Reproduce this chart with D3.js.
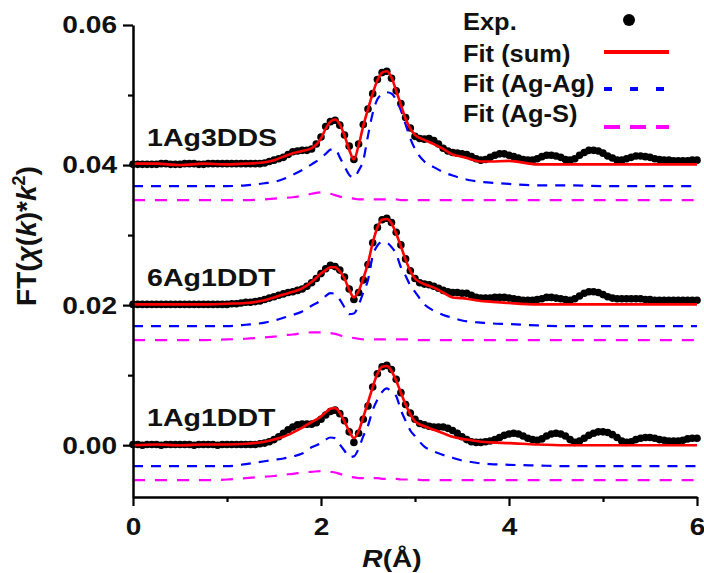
<!DOCTYPE html>
<html>
<head>
<meta charset="utf-8">
<script src="https://cdn.jsdelivr.net/npm/d3@7"></script>
<style>
  html, body { margin: 0; padding: 0; background: #fff; }
  svg { display: block; font-family: "Liberation Sans", Arial, sans-serif; font-weight: bold; }
</style>
</head>
<body>
<svg id="chart" width="704" height="573"></svg>
<script>
// ---- Sample names and vertical stacking offsets ----
const samples = ["1Ag3DDS", "6Ag1DDT", "1Ag1DDT"];
const offsets = [0.04, 0.02, 0.00];
// Fit components are drawn slightly below each sample's baseline
const agAgShift = -0.003;
const agSShift = -0.005;

// ---- Experimental |FT| (k^2-weighted), sampled every 0.05 Å from 0 to 6 Å ----
const expR = d3.range(121).map(i => i / 20);

const exp1Ag3DDS = [
  0.0001,0.0001,0.0001,0.0001,0.0001,0.0001,0.0002,0.0002,0.0001,0.0001,
  0.0001,0.0002,0.0002,0.0002,0.0001,0.0001,0.0002,0.0002,0.0002,0.0002,
  0.0002,0.0002,0.0002,0.0002,0.0002,0.0002,0.0002,0.0002,0.0003,0.0005,
  0.0007,0.0009,0.0011,0.0015,0.0019,0.0020,0.0021,0.0021,0.0023,0.0030,
  0.0040,0.0055,0.0062,0.0064,0.0057,0.0043,0.0027,0.0008,0.0030,0.0058,
  0.0080,0.0102,0.0122,0.0132,0.0134,0.0124,0.0106,0.0088,0.0068,0.0053,
  0.0041,0.0038,0.0037,0.0038,0.0035,0.0030,0.0024,0.0020,0.0018,0.0017,
  0.0016,0.0015,0.0012,0.0009,0.0007,0.0008,0.0011,0.0014,0.0016,0.0016,
  0.0014,0.0012,0.0010,0.0008,0.0007,0.0007,0.0009,0.0012,0.0014,0.0014,
  0.0013,0.0011,0.0008,0.0007,0.0009,0.0014,0.0018,0.0021,0.0021,0.0020,
  0.0017,0.0013,0.0010,0.0007,0.0007,0.0009,0.0011,0.0013,0.0013,0.0012,
  0.0011,0.0009,0.0008,0.0007,0.0007,0.0006,0.0006,0.0006,0.0006,0.0007,
  0.0007
];

const exp6Ag1DDT = [
  0.0001,0.0001,0.0001,0.0001,0.0001,0.0001,0.0001,0.0001,0.0001,0.0001,
  0.0001,0.0001,0.0001,0.0001,0.0001,0.0001,0.0001,0.0001,0.0001,0.0001,
  0.0001,0.0002,0.0002,0.0003,0.0004,0.0004,0.0005,0.0006,0.0008,0.0010,
  0.0012,0.0014,0.0016,0.0018,0.0019,0.0021,0.0023,0.0027,0.0032,0.0038,
  0.0045,0.0052,0.0057,0.0055,0.0050,0.0040,0.0023,0.0008,0.0018,0.0036,
  0.0058,0.0089,0.0111,0.0122,0.0124,0.0118,0.0104,0.0086,0.0066,0.0049,
  0.0038,0.0032,0.0030,0.0029,0.0027,0.0024,0.0021,0.0019,0.0018,0.0018,
  0.0017,0.0017,0.0014,0.0011,0.0010,0.0010,0.0010,0.0011,0.0011,0.0011,
  0.0010,0.0009,0.0008,0.0007,0.0007,0.0007,0.0008,0.0009,0.0011,0.0011,
  0.0010,0.0009,0.0008,0.0007,0.0009,0.0013,0.0017,0.0019,0.0019,0.0018,
  0.0015,0.0012,0.0010,0.0009,0.0009,0.0009,0.0009,0.0009,0.0009,0.0008,
  0.0008,0.0007,0.0007,0.0007,0.0007,0.0007,0.0007,0.0007,0.0007,0.0007,
  0.0007
];

const exp1Ag1DDT = [
  0.0001,0.0001,0.0000,0.0001,0.0001,0.0001,0.0000,0.0001,0.0001,0.0001,
  0.0001,0.0001,0.0001,0.0000,0.0001,0.0001,0.0001,0.0001,0.0000,0.0001,
  0.0001,0.0001,0.0001,0.0001,0.0001,0.0001,0.0001,0.0002,0.0003,0.0005,
  0.0008,0.0012,0.0017,0.0022,0.0026,0.0029,0.0030,0.0030,0.0030,0.0032,
  0.0037,0.0043,0.0048,0.0050,0.0045,0.0035,0.0019,0.0004,0.0017,0.0037,
  0.0056,0.0083,0.0102,0.0112,0.0114,0.0108,0.0094,0.0075,0.0058,0.0046,
  0.0037,0.0031,0.0029,0.0027,0.0026,0.0026,0.0026,0.0024,0.0021,0.0017,
  0.0012,0.0008,0.0005,0.0004,0.0004,0.0005,0.0006,0.0008,0.0011,0.0014,
  0.0016,0.0017,0.0016,0.0013,0.0010,0.0008,0.0007,0.0009,0.0013,0.0016,
  0.0017,0.0016,0.0013,0.0008,0.0004,0.0006,0.0010,0.0014,0.0017,0.0019,
  0.0019,0.0018,0.0015,0.0011,0.0006,0.0004,0.0005,0.0008,0.0010,0.0011,
  0.0011,0.0010,0.0008,0.0007,0.0006,0.0006,0.0006,0.0007,0.0009,0.0010,
  0.0010
];

// ---- Fitted curves (sum and single-path contributions) ----
const fitR = [0, 0.25, 0.5, 0.75, 1.0, 1.2, 1.4, 1.5, 1.6, 1.7, 1.8, 1.9,
  2.0, 2.05, 2.1, 2.15, 2.2, 2.25, 2.3, 2.35, 2.4, 2.45, 2.5, 2.55, 2.6, 2.65,
  2.7, 2.75, 2.8, 2.85, 2.9, 2.95, 3.0, 3.1, 3.2, 3.3, 3.4, 3.5, 3.6, 3.7, 3.8,
  4.0, 4.3, 4.6, 5.0, 5.5, 6.0];

const sum1Ag3DDS = [0.0002,0.0002,0.0000,0.0002,0.0001,0.0002,0.0004,0.0007,0.0012,0.0017,0.0020,0.0024,
  0.0038,0.0052,0.0062,0.0065,0.0058,0.0042,0.0022,0.0008,0.0028,0.0056,0.0080,0.0102,0.0121,0.0132,
  0.0134,0.0125,0.0106,0.0086,0.0066,0.0052,0.0043,0.0036,0.0030,0.0023,0.0015,0.0012,0.0008,0.0005,0.0005,
  0.0006,0.0001,0.0001,0.0001,0.0001,0.0001];
const agag1Ag3DDS = [0.0000,0.0000,0.0000,0.0000,0.0000,0.0001,0.0004,0.0006,0.0010,0.0016,0.0023,0.0031,
  0.0040,0.0046,0.0052,0.0053,0.0041,0.0028,0.0016,0.0012,0.0022,0.0037,0.0072,0.0104,0.0124,0.0131,
  0.0134,0.0132,0.0123,0.0108,0.0088,0.0068,0.0053,0.0035,0.0027,0.0020,0.0015,0.0011,0.0008,0.0006,0.0005,
  0.0003,0.0001,0.0001,0.0000,0.0000,0.0000];
const ags1Ag3DDS = [0.0000,0.0000,0.0000,0.0000,0.0000,0.0000,0.0001,0.0002,0.0003,0.0004,0.0006,0.0009,
  0.0011,0.0010,0.0009,0.0007,0.0005,0.0004,0.0003,0.0002,0.0001,0.0001,0.0001,0.0001,0.0001,0.0001,
  0.0001,0.0001,0.0001,0.0000,0.0000,0.0000,0.0000,0.0000,0.0000,0.0000,0.0000,0.0000,0.0000,0.0000,0.0000,
  0.0000,0.0000,0.0000,0.0000,0.0000,0.0000];

const sum6Ag1DDT = [0.0001,0.0001,0.0001,0.0001,0.0002,0.0003,0.0007,0.0011,0.0015,0.0019,0.0024,0.0033,
  0.0045,0.0050,0.0054,0.0054,0.0048,0.0038,0.0022,0.0011,0.0020,0.0038,0.0060,0.0089,0.0111,0.0122,
  0.0123,0.0117,0.0102,0.0084,0.0065,0.0049,0.0038,0.0030,0.0025,0.0018,0.0011,0.0010,0.0008,0.0006,0.0005,
  0.0003,0.0001,0.0001,0.0001,0.0001,0.0001];
const agag6Ag1DDT = [0.0000,0.0000,0.0000,0.0000,0.0000,0.0002,0.0005,0.0008,0.0012,0.0016,0.0021,0.0029,
  0.0037,0.0043,0.0047,0.0046,0.0038,0.0027,0.0017,0.0018,0.0030,0.0048,0.0066,0.0100,0.0115,0.0120,
  0.0119,0.0113,0.0103,0.0084,0.0072,0.0058,0.0049,0.0031,0.0022,0.0016,0.0012,0.0008,0.0006,0.0005,0.0004,
  0.0003,0.0001,0.0000,0.0000,0.0000,0.0000];
const ags6Ag1DDT = [0.0000,0.0000,0.0000,0.0000,0.0001,0.0002,0.0004,0.0005,0.0007,0.0008,0.0010,0.0011,
  0.0011,0.0011,0.0010,0.0009,0.0007,0.0005,0.0004,0.0003,0.0002,0.0001,0.0001,0.0001,0.0001,0.0001,
  0.0001,0.0001,0.0001,0.0001,0.0001,0.0001,0.0000,0.0000,0.0000,0.0000,0.0000,0.0000,0.0000,0.0000,0.0000,
  0.0000,0.0000,0.0000,0.0000,0.0000,0.0000];

const sum1Ag1DDT = [0.0000,0.0001,0.0000,0.0001,0.0001,0.0002,0.0005,0.0008,0.0012,0.0018,0.0025,0.0033,
  0.0041,0.0047,0.0052,0.0053,0.0046,0.0034,0.0020,0.0010,0.0020,0.0040,0.0061,0.0083,0.0102,0.0112,
  0.0113,0.0106,0.0092,0.0075,0.0058,0.0044,0.0034,0.0027,0.0022,0.0017,0.0012,0.0009,0.0007,0.0005,0.0004,
  0.0003,0.0001,0.0000,0.0000,0.0000,0.0000];
const agag1Ag1DDT = [0.0000,0.0000,0.0000,0.0000,0.0000,0.0003,0.0007,0.0009,0.0011,0.0014,0.0018,0.0027,
  0.0033,0.0038,0.0041,0.0040,0.0031,0.0022,0.0013,0.0014,0.0025,0.0043,0.0058,0.0080,0.0095,0.0106,
  0.0111,0.0106,0.0100,0.0080,0.0065,0.0051,0.0043,0.0028,0.0021,0.0016,0.0012,0.0008,0.0006,0.0004,0.0003,
  0.0002,0.0001,0.0000,0.0000,0.0000,0.0000];
const ags1Ag1DDT = [0.0000,0.0000,0.0000,0.0000,0.0001,0.0003,0.0005,0.0006,0.0008,0.0009,0.0011,0.0012,
  0.0013,0.0013,0.0012,0.0011,0.0009,0.0007,0.0005,0.0004,0.0003,0.0003,0.0003,0.0003,0.0003,0.0002,
  0.0002,0.0002,0.0002,0.0001,0.0001,0.0001,0.0001,0.0000,0.0000,0.0000,0.0000,0.0000,0.0000,0.0000,0.0000,
  0.0000,0.0000,0.0000,0.0000,0.0000,0.0000];

// ---- Axis ticks and legend entries ----
const yTicks = [0, 0.02, 0.04, 0.06];
const yMinorTicks = [0.01, 0.03, 0.05];
const xTicks = [0, 2, 4, 6];
const xMinorTicks = [1, 3, 5];
const legendLabels = ["Exp.", "Fit (sum)", "Fit (Ag-Ag)", "Fit (Ag-S)"];

const expSets = [exp1Ag3DDS, exp6Ag1DDT, exp1Ag1DDT];
const sumSets = [sum1Ag3DDS, sum6Ag1DDT, sum1Ag1DDT];
const agagSets = [agag1Ag3DDS, agag6Ag1DDT, agag1Ag1DDT];
const agsSets = [ags1Ag3DDS, ags6Ag1DDT, ags1Ag1DDT];

// ---- Layout ----
const svg = d3.select("#chart");
const x = d3.scaleLinear().domain([0, 6]).range([133, 697]);
const y = d3.scaleLinear().domain([-0.0074, 0.06]).range([497, 25]);

const colors = { exp: "#000", sum: "#ff0000", agag: "#0000ff", ags: "#ff00ff" };

// Stretch text horizontally to the wide bold look of the figure
function widen(sel, k) {
  sel.each(function () {
    const w = this.getComputedTextLength();
    this.setAttribute("textLength", (w * k).toFixed(1));
    this.setAttribute("lengthAdjust", "spacingAndGlyphs");
  });
}

const line = d3.line()
  .x(d => x(d[0]))
  .y(d => y(d[1]))
  .curve(d3.curveMonotoneX);

const plot = svg.append("g");

samples.forEach((name, i) => {
  const off = offsets[i];
  const g = plot.append("g").attr("class", "sample");

  // experimental points
  g.append("g").selectAll("circle")
    .data(expR.map((r, j) => [r, expSets[i][j] + off]))
    .join("circle")
    .attr("cx", d => x(d[0]))
    .attr("cy", d => y(d[1]))
    .attr("r", 3.8)
    .attr("fill", colors.exp);

  // Ag-Ag path
  g.append("path")
    .datum(fitR.map((r, j) => [r, agagSets[i][j] + off + agAgShift]))
    .attr("d", line)
    .attr("fill", "none")
    .attr("stroke", colors.agag)
    .attr("stroke-width", 2.2)
    .attr("stroke-dasharray", "10,8");

  // Ag-S path
  g.append("path")
    .datum(fitR.map((r, j) => [r, agsSets[i][j] + off + agSShift]))
    .attr("d", line)
    .attr("fill", "none")
    .attr("stroke", colors.ags)
    .attr("stroke-width", 2.2)
    .attr("stroke-dasharray", "12,10");

  // total fit
  g.append("path")
    .datum(fitR.map((r, j) => [r, sumSets[i][j] + off]))
    .attr("d", line)
    .attr("fill", "none")
    .attr("stroke", colors.sum)
    .attr("stroke-width", 2.6);

  // sample name
  const t = g.append("text")
    .attr("x", 147)
    .attr("y", y(off) - 19)
    .attr("font-size", 24)
    .attr("fill", "#111")
    .text(name);
  widen(t, 1.19);
});

// ---- Axes ----
function styleAxis(g) {
  g.attr("font-family", null).attr("font-size", 24);
  g.selectAll(".domain").attr("stroke", "#000").attr("stroke-width", 2.5);
  g.selectAll(".tick line").attr("stroke", "#000").attr("stroke-width", 2.2);
  g.selectAll(".tick text").attr("fill", "#111");
}

const gy = svg.append("g")
  .attr("transform", "translate(133,0)")
  .call(d3.axisLeft(y).tickValues(yTicks).tickFormat(d3.format(".2f"))
    .tickSize(10).tickSizeOuter(0).tickPadding(6))
  .call(styleAxis);
gy.selectAll(".tick text").attr("dy", "0.33em");
widen(gy.selectAll(".tick text"), 1.17);

svg.append("g")
  .attr("transform", "translate(133,0)")
  .call(d3.axisLeft(y).tickValues(yMinorTicks).tickFormat(() => "").tickSize(5).tickSizeOuter(0))
  .call(styleAxis)
  .call(g => g.select(".domain").remove());

const gx = svg.append("g")
  .attr("transform", "translate(0,497)")
  .call(d3.axisBottom(x).tickValues(xTicks).tickFormat(d3.format("d"))
    .tickSize(9).tickSizeOuter(0))
  .call(styleAxis);
gx.selectAll(".tick text").attr("y", 38).attr("dy", 0);
widen(gx.selectAll(".tick text"), 1.17);

svg.append("g")
  .attr("transform", "translate(0,497)")
  .call(d3.axisBottom(x).tickValues(xMinorTicks).tickFormat(() => "").tickSize(5).tickSizeOuter(0))
  .call(styleAxis)
  .call(g => g.select(".domain").remove());

// ---- Axis titles ----
const xt = svg.append("text")
  .attr("x", 392)
  .attr("y", 567)
  .attr("text-anchor", "middle")
  .attr("font-size", 24)
  .attr("fill", "#111");
xt.append("tspan").attr("font-style", "italic").text("R");
xt.append("tspan").text("(Å)");
widen(xt, 1.17);

const yt = svg.append("text")
  .attr("transform", "translate(36,236) rotate(-90)")
  .attr("text-anchor", "middle")
  .attr("font-size", 28)
  .attr("fill", "#111");
yt.append("tspan").text("FT(");
yt.append("tspan").attr("font-style", "italic").text("χ");
yt.append("tspan").text("(");
yt.append("tspan").attr("font-style", "italic").text("k");
yt.append("tspan").text(")*");
yt.append("tspan").attr("font-style", "italic").text("k");
yt.append("tspan").attr("font-size", 18).attr("dy", -11).text("2");
yt.append("tspan").attr("dy", 11).text(")");

// ---- Legend ----
const legend = svg.append("g");
const textY = [30, 62, 92, 122];
const symY = [20, 52, 89, 127];
legendLabels.forEach((lab, i) => {
  const t = legend.append("text")
    .attr("x", 463)
    .attr("y", textY[i])
    .attr("font-size", 24)
    .attr("fill", "#111")
    .text(lab);
  widen(t, 1.06);
});
legend.append("circle").attr("cx", 629).attr("cy", symY[0]).attr("r", 6).attr("fill", colors.exp);
legend.append("line").attr("x1", 604).attr("x2", 669).attr("y1", symY[1]).attr("y2", symY[1])
  .attr("stroke", colors.sum).attr("stroke-width", 4);
legend.append("line").attr("x1", 604).attr("x2", 669).attr("y1", symY[2]).attr("y2", symY[2])
  .attr("stroke", colors.agag).attr("stroke-width", 4).attr("stroke-dasharray", "8,18");
legend.append("line").attr("x1", 604).attr("x2", 669).attr("y1", symY[3]).attr("y2", symY[3])
  .attr("stroke", colors.ags).attr("stroke-width", 4).attr("stroke-dasharray", "16,10");
</script>
</body>
</html>
